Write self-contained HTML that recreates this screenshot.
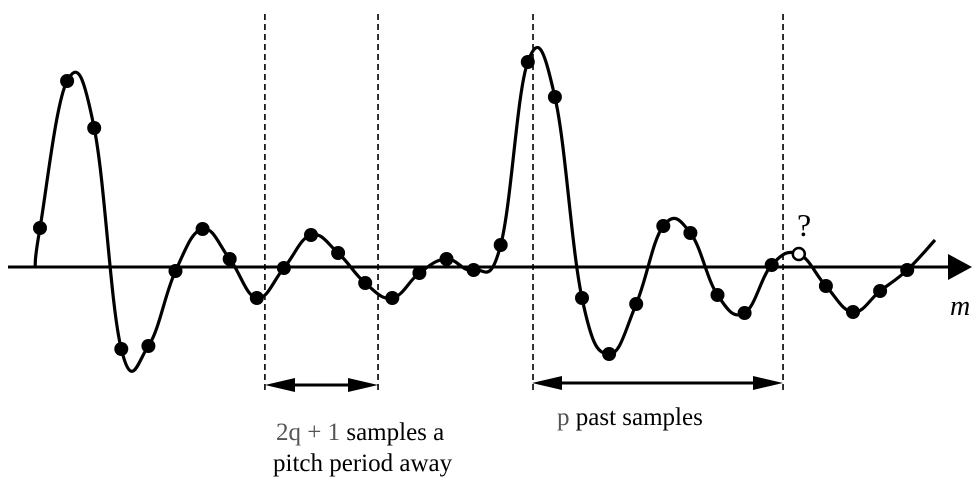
<!DOCTYPE html>
<html><head><meta charset="utf-8"><style>
html,body{margin:0;padding:0;background:#fff;}
svg{display:block;font-family:"Liberation Serif",serif;}
</style></head><body>
<svg id="chart" width="979" height="485" viewBox="0 0 979 485" xmlns="http://www.w3.org/2000/svg">
<line x1="8" y1="267" x2="950" y2="267" stroke="#000" stroke-width="3"/>
<polygon points="948,254 972,267 948,280" fill="#000"/>
<text x="950" y="315" font-size="28" font-style="italic">m</text>
<g id="dashes"></g>
<path id="curve" fill="none" stroke="#000" stroke-width="3.2"/>
<g id="pts"></g>
<text x="797" y="236" font-size="32">?</text>
<g>
<line x1="280" y1="385" x2="364" y2="385" stroke="#000" stroke-width="3"/>
<polygon points="265,385 295,378 295,392" fill="#000"/>
<polygon points="378,385 348,378 348,392" fill="#000"/>
</g>
<g>
<line x1="545" y1="383" x2="770" y2="383" stroke="#000" stroke-width="3"/>
<polygon points="532,383 562,376 562,390" fill="#000"/>
<polygon points="783,383 753,376 753,390" fill="#000"/>
</g>
<text x="276" y="440" font-size="25"><tspan fill="#555">2q + 1</tspan>  samples a</text>
<text x="273" y="471" font-size="25">pitch period away</text>
<text x="557" y="425" font-size="25"><tspan fill="#555">p</tspan>  past samples</text>
</svg>
<script>
const sampleIndex = [0,1,2,3,4,5,6,7,8,9,10,11,12,13,14,15,16,17,18,19,20,21,22,23,24,25,26,27,28,29,30,31,32];
const sampleValues = [39,186,139,-82,-79,-4,38,8,-31,-1,32,14,-16,-31,-6,8,-3,22,205,170,-31,-87,-37,41,34,-28,-46,2,13,-19,-45,-24,-3];
const unknownIndex = [28];
const dashedAt = [8.33, 12.52, 18.26, 27.52];
const NS='http://www.w3.org/2000/svg';
const xs = i => 40 + 27.1*i;
const ys = v => 267 - v;
const P = [[35,267]].concat(sampleValues.map((v,i)=>[xs(sampleIndex[i]),ys(v)])).concat([[935,240]]);
let d = 'M'+P[0][0]+','+P[0][1];
for(let i=0;i<P.length-1;i++){
  const p0=P[Math.max(0,i-1)],p1=P[i],p2=P[i+1],p3=P[Math.min(P.length-1,i+2)];
  const t=0.2;
  const c1=[p1[0]+(p2[0]-p0[0])*t, p1[1]+(p2[1]-p0[1])*t];
  const c2=[p2[0]-(p3[0]-p1[0])*t, p2[1]-(p3[1]-p1[1])*t];
  d+=` C${c1[0]},${c1[1]} ${c2[0]},${c2[1]} ${p2[0]},${p2[1]}`;
}
document.getElementById('curve').setAttribute('d',d);
const g=document.getElementById('pts');
sampleValues.forEach((v,i)=>{
  const c=document.createElementNS(NS,'circle');
  c.setAttribute('cx',xs(sampleIndex[i]));c.setAttribute('cy',ys(v));
  const open = unknownIndex.includes(sampleIndex[i]);
  c.setAttribute('r',open?6:7);
  c.setAttribute('fill',open?'#fff':'#000');
  c.setAttribute('stroke','#000');c.setAttribute('stroke-width',open?2.5:0);
  
  
  g.appendChild(c);
});
const dg=document.getElementById('dashes');
dashedAt.forEach(k=>{
  const l=document.createElementNS(NS,'line');
  const x=40+27*k;
  l.setAttribute('x1',x);l.setAttribute('x2',x);l.setAttribute('y1',14);l.setAttribute('y2',390);
  l.setAttribute('stroke','#000');l.setAttribute('stroke-width',1.6);l.setAttribute('stroke-dasharray','6,4');
  
  
  dg.appendChild(l);
});
</script>
</body></html>
